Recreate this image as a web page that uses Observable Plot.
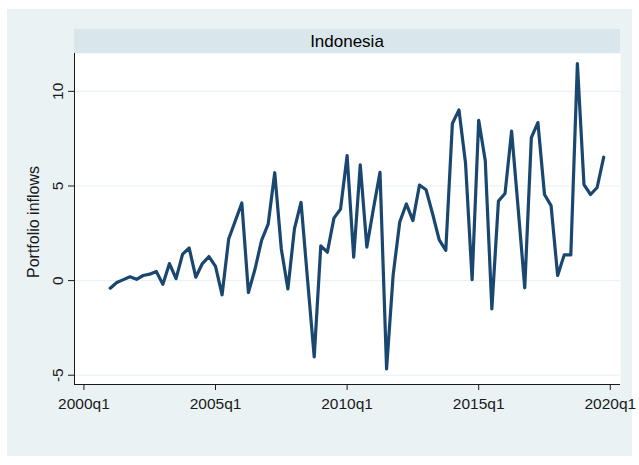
<!DOCTYPE html>
<html>
<head>
<meta charset="utf-8">
<script src="https://cdn.jsdelivr.net/npm/d3@7"></script>
<script src="https://cdn.jsdelivr.net/npm/@observablehq/plot@0.6"></script>
<style>
  body { margin: 0; background: #fff; font-family: Arial, "Liberation Sans", sans-serif; }
  #chart { position: relative; width: 639px; height: 465px; overflow: hidden; }
  #region { position: absolute; left: 7px; top: 9px; width: 625px; height: 447px; background: #eaf2f3; }
  #strip { position: absolute; left: 74px; top: 29px; width: 546px; height: 24px; background: #d9e6eb;
           text-align: center; font-size: 17px; line-height: 25px; color: #000; }
  #chart svg { position: absolute; left: 0; top: 0; background: transparent; }
</style>
</head>
<body>
<div id="chart">
  <div id="region"></div>
  <div id="strip">Indonesia</div>
</div>
<script>
// Quarterly portfolio inflows, Indonesia, 2001q1 through 2019q4
const country = "Indonesia";
const firstQuarter = { year: 2001, q: 1 };
const inflows = [
  -0.4, -0.1, 0.05, 0.2,        // 2001
  0.07, 0.27, 0.34, 0.48,       // 2002
  -0.2, 0.9, 0.1, 1.4,          // 2003
  1.72, 0.18, 0.9, 1.27,        // 2004
  0.75, -0.75, 2.2, 3.15,       // 2005
  4.1, -0.63, 0.6, 2.13,        // 2006
  2.98, 5.7, 1.67, -0.44,       // 2007
  2.75, 4.13, 0.0, -4.03,       // 2008
  1.83, 1.5, 3.3, 3.78,         // 2009
  6.6, 1.24, 6.12, 1.77,        // 2010
  3.8, 5.72, -4.67, 0.3,        // 2011
  3.1, 4.05, 3.17, 5.05,        // 2012
  4.8, 3.52, 2.15, 1.6,         // 2013
  8.3, 9.02, 6.2, 0.05,         // 2014
  8.47, 6.33, -1.5, 4.2,        // 2015
  4.6, 7.9, 3.8, -0.38,         // 2016
  7.55, 8.35, 4.55, 3.96,       // 2017
  0.27, 1.36, 1.36, 11.47,      // 2018
  5.07, 4.55, 4.92, 6.52        // 2019
];
const xTicks = [2000, 2005, 2010, 2015, 2020];
const xTickLabels = ["2000q1", "2005q1", "2010q1", "2015q1", "2020q1"];
const yTicks = [-5, 0, 5, 10];
const yTickLabels = ["-5", "0", "5", "10"];
const yTitle = "Portfolio inflows";

// time in fractional years: 2001q1 -> 2001.00, 2001q2 -> 2001.25, ...
const series = inflows.map((v, i) => ({
  t: firstQuarter.year + (firstQuarter.q - 1) / 4 + i / 4,
  v
}));

const xDomain = [1999.642, 2020.388];
const yDomain = [-5.49, 12.0];
const axisColor = "#1a1a1a";

const chart = Plot.plot({
  width: 639,
  height: 465,
  marginLeft: 74,
  marginRight: 19,
  marginTop: 53,
  marginBottom: 81,
  style: { fontFamily: "Arial, 'Liberation Sans', sans-serif", fontSize: "15.5px", color: axisColor, background: "transparent" },
  x: {
    domain: xDomain,
    ticks: xTicks,
    tickFormat: d => xTickLabels[xTicks.indexOf(d)],
    tickSize: 6,
    tickPadding: 7,
    label: null
  },
  y: {
    domain: yDomain,
    ticks: yTicks,
    tickFormat: () => "",
    tickSize: 6,
    tickPadding: 0,
    label: null
  },
  marks: [
    Plot.frame({ fill: "white", stroke: null }),
    Plot.ruleY(yTicks, { stroke: "#eaf2f3", strokeWidth: 1.2 }),
    Plot.line(series, { x: "t", y: "v", stroke: "#1a476f", strokeWidth: 3.2, strokeLinejoin: "round" }),
    Plot.ruleX([xDomain[0]], { stroke: axisColor, strokeWidth: 1 }),
    Plot.ruleY([yDomain[0]], { stroke: axisColor, strokeWidth: 1 }),
    Plot.text(yTicks, {
      y: d => d,
      text: (d, i) => yTickLabels[i],
      frameAnchor: "left",
      rotate: -90,
      textAnchor: "middle",
      lineAnchor: "bottom",
      dx: -12,
      fontSize: 15.5,
      fill: axisColor
    }),
    Plot.text([yTitle], {
      text: d => d,
      frameAnchor: "left",
      rotate: -90,
      textAnchor: "middle",
      lineAnchor: "bottom",
      dx: -36,
      dy: 3,
      fontSize: 16,
      fill: axisColor
    })
  ]
});

document.getElementById("chart").appendChild(chart);
</script>
</body>
</html>
